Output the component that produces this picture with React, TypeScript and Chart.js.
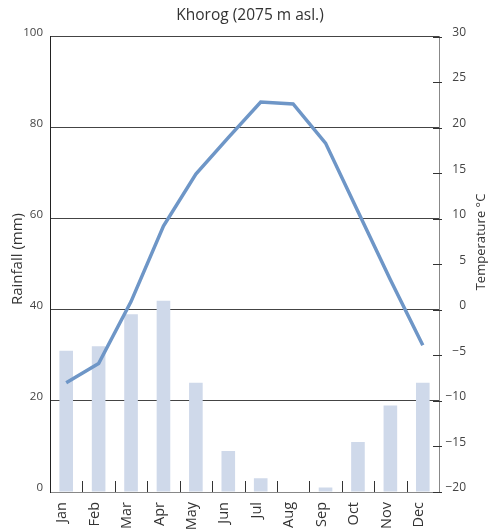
import React, { useEffect, useRef } from "react";
import { Chart, registerables } from "chart.js";

Chart.register(...registerables);

const months = ["Jan", "Feb", "Mar", "Apr", "May", "Jun", "Jul", "Aug", "Sep", "Oct", "Nov", "Dec"];
const rainfall = [31, 32, 39, 42, 24, 9, 3, 0, 1, 11, 19, 24];
const temperature = [-8, -5.9, 0.9, 9.2, 14.9, 18.9, 22.8, 22.6, 18.3, 10.8, 3.3, -3.9];
const rainRange = [0, 100];
const rainStep = 20;
const tempRange = [-20, 30];
const tempStep = 5;
const titleText = "Khorog (2075 m asl.)";
const rainTitle = "Rainfall (mm)";
const tempTitle = "Temperature °C";

const FONT = '"Open Sans", sans-serif';

const decorPlugin = {
  id: "decor",
  afterDraw(chart: any) {
    const { ctx, chartArea } = chart;
    const xs = chart.scales.x;
    const y1 = chart.scales.y1;
    ctx.save();
    ctx.strokeStyle = "#333";
    ctx.lineWidth = 1;
    // inward ticks between categories
    for (let i = 1; i < months.length; i++) {
      const x = Math.round((xs.getPixelForValue(i - 1) + xs.getPixelForValue(i)) / 2) + 0.5;
      ctx.beginPath();
      ctx.moveTo(x, chartArea.bottom);
      ctx.lineTo(x, chartArea.bottom - 11);
      ctx.stroke();
    }
    // crossing ticks on right axis
    y1.ticks.forEach((t: any) => {
      const y = Math.round(y1.getPixelForValue(t.value)) + 0.5;
      ctx.beginPath();
      ctx.moveTo(chartArea.right - 6, y);
      ctx.lineTo(chartArea.right + 3, y);
      ctx.stroke();
    });
    // chart title and axis titles
    ctx.fillStyle = "#333";
    ctx.textAlign = "center";
    ctx.textBaseline = "middle";
    ctx.font = `15.5px ${FONT}`;
    ctx.fillText(titleText, 250, 15.5);
    ctx.font = `15px ${FONT}`;
    ctx.save();
    ctx.translate(18, 259);
    ctx.rotate(-Math.PI / 2);
    ctx.fillText(rainTitle, 0, 0);
    ctx.restore();
    ctx.font = `13px ${FONT}`;
    ctx.save();
    ctx.translate(481, 242);
    ctx.rotate(-Math.PI / 2);
    ctx.fillText(tempTitle, 0, 0);
    ctx.restore();
    ctx.restore();
  },
};

export default function App() {
  const ref = useRef<HTMLCanvasElement>(null);
  useEffect(() => {
    if (!ref.current) return;
    Chart.defaults.font.family = FONT;
    const chart = new Chart(ref.current, {
      data: {
        labels: months,
        datasets: [
          {
            type: "line",
            label: "Temperature",
            data: temperature,
            yAxisID: "y1",
            borderColor: "#6e96c7",
            borderWidth: 3.5,
            pointRadius: 0,
            tension: 0,
            order: 0,
          } as any,
          {
            type: "bar",
            label: "Rainfall",
            data: rainfall,
            yAxisID: "y",
            backgroundColor: "#cfd9ea",
            barPercentage: 0.42,
            categoryPercentage: 1,
            order: 1,
          } as any,
        ],
      },
      options: {
        responsive: false,
        animation: false,
        layout: { padding: { left: 0, right: 24, top: 36.5, bottom: 0 } },
        plugins: {
          legend: { display: false },
          tooltip: { enabled: false },
          title: { display: false },
        },
        scales: {
          x: {
            type: "category",
            offset: true,
            grid: { display: false },
            border: { display: true, color: "#888", width: 1 },
            ticks: {
              minRotation: 90,
              maxRotation: 90,
              autoSkip: false,
              padding: 2,
              labelOffset: -4,
              color: "#333",
              font: { size: 14.5 },
            },
            afterFit: (s: any) => {
              s.height = 39;
            },
          },
          y: {
            position: "left",
            min: rainRange[0],
            max: rainRange[1],
            ticks: {
              stepSize: rainStep,
              padding: 7,
              color: "#444",
              font: { size: 11.5 },
              labelOffset: -4,
            },
            grid: {
              drawTicks: false,
              color: (c: any) => (c.tick && c.tick.value === 0 ? "rgba(0,0,0,0)" : "#444"),
              lineWidth: 1,
            },
            border: { color: "#222", width: 1 },
            afterFit: (s: any) => {
              s.width = 50;
            },
          },
          y1: {
            position: "right",
            min: tempRange[0],
            max: tempRange[1],
            ticks: {
              stepSize: tempStep,
              crossAlign: "far",
              color: "#444",
              font: { size: 12 },
              labelOffset: -4,
              callback: (v: any) => String(v).replace("-", "\u2212"),
            },
            grid: { display: false, drawOnChartArea: false },
            border: { color: "#888", width: 1 },
            afterFit: (s: any) => {
              s.width = 27;
            },
          },
        },
      } as any,
      plugins: [decorPlugin],
    });
    return () => chart.destroy();
  }, []);
  return (
    <div style={{ position: "absolute", left: 0, top: 0, width: 490, height: 531 }}>
      <canvas ref={ref} width={490} height={531} style={{ display: "block" }} />
    </div>
  );
}
